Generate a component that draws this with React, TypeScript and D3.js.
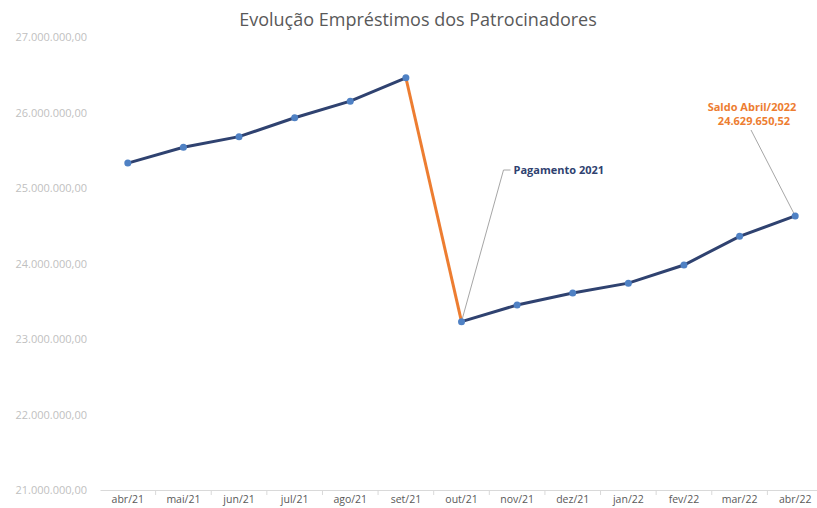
import React, { useEffect, useRef } from "react";
import * as d3 from "d3";

const categories = ["abr/21", "mai/21", "jun/21", "jul/21", "ago/21", "set/21", "out/21", "nov/21", "dez/21", "jan/22", "fev/22", "mar/22", "abr/22"];
const saldo = [25330000, 25540000, 25680000, 25930000, 26150000, 26460000, 23230000, 23450000, 23610000, 23740000, 23980000, 24360000, 24629650.52];
const yTicks = [21000000, 22000000, 23000000, 24000000, 25000000, 26000000, 27000000];

const fmtBR = (v: number) => {
  const [i, d] = v.toFixed(2).split(".");
  return i.replace(/\B(?=(\d{3})+(?!\d))/g, ".") + "," + d;
};

const App = () => {
  const ref = useRef<SVGSVGElement>(null);

  useEffect(() => {
    const svg = d3.select(ref.current);
    svg.selectAll("*").remove();

    const x = d3.scaleBand().domain(categories).range([100, 823]);
    const y = d3.scaleLinear().domain([21000000, 27000000]).range([490, 37]);
    const cx = (c: string) => (x(c) as number) + x.bandwidth() / 2;
    const font = "'Open Sans', 'Noto Sans', sans-serif";

    svg.append("text")
      .attr("x", 418).attr("y", 26)
      .attr("text-anchor", "middle")
      .attr("font-family", font).attr("font-size", 18)
      .attr("fill", "#595959")
      .text("Evolução Empréstimos dos Patrocinadores");

    // y labels (no axis line)
    svg.append("g").selectAll("text").data(yTicks).enter().append("text")
      .attr("x", 87).attr("y", (d) => y(d) + 4)
      .attr("text-anchor", "end")
      .attr("font-family", font).attr("font-size", 11)
      .attr("fill", "#bfbfbf")
      .text((d) => fmtBR(d));

    // x axis
    const xa = svg.append("g").attr("transform", "translate(0,490)")
      .call(d3.axisBottom(x).tickSize(0).tickPadding(6));
    xa.select(".domain").attr("stroke", "#d9d9d9");
    xa.selectAll("text").attr("font-family", font).attr("font-size", 10.5).attr("fill", "#595959");
    xa.selectAll(".bnd").data(categories.slice(1)).enter().append("line")
      .attr("x1", (d) => x(d) as number).attr("x2", (d) => x(d) as number)
      .attr("y1", 0).attr("y2", 5)
      .attr("stroke", "#d9d9d9");

    const pts = categories.map((c, i) => [cx(c), y(saldo[i])] as [number, number]);
    const line = d3.line<[number, number]>();

    svg.append("path").attr("d", line(pts.slice(0, 6)))
      .attr("fill", "none").attr("stroke", "#2F4270").attr("stroke-width", 3);
    svg.append("path").attr("d", line(pts.slice(6)))
      .attr("fill", "none").attr("stroke", "#2F4270").attr("stroke-width", 3);
    svg.append("path").attr("d", line(pts.slice(5, 7)))
      .attr("fill", "none").attr("stroke", "#ED7D31").attr("stroke-width", 3);

    // leader lines
    const out = pts[6];
    svg.append("polyline")
      .attr("points", `${out[0]},${out[1]} ${out[0] + 42},170 ${out[0] + 49},170`)
      .attr("fill", "none").attr("stroke", "#a6a6a6").attr("stroke-width", 1);
    const last = pts[12];
    svg.append("line")
      .attr("x1", last[0]).attr("y1", last[1]).attr("x2", 751).attr("y2", 130)
      .attr("stroke", "#a6a6a6").attr("stroke-width", 1);

    svg.append("g").selectAll("circle").data(pts).enter().append("circle")
      .attr("cx", (d) => d[0]).attr("cy", (d) => d[1]).attr("r", 3.5)
      .attr("fill", "#4F81C4");

    svg.append("text")
      .attr("x", out[0] + 52).attr("y", 174)
      .attr("font-family", font).attr("font-size", 11).attr("font-weight", "bold")
      .attr("fill", "#2F4270")
      .text("Pagamento 2021");

    const lbl = svg.append("text")
      .attr("text-anchor", "middle")
      .attr("font-family", font).attr("font-size", 11).attr("font-weight", "bold")
      .attr("fill", "#ED7D31");
    lbl.append("tspan").attr("x", 752).attr("y", 111).text("Saldo Abril/2022");
    lbl.append("tspan").attr("x", 754).attr("y", 125).text(fmtBR(saldo[12]));
  }, []);

  return (
    <svg ref={ref} width={817} height={508} style={{ position: "absolute", left: 0, top: 0, background: "#fff" }} />
  );
};

export default App;
